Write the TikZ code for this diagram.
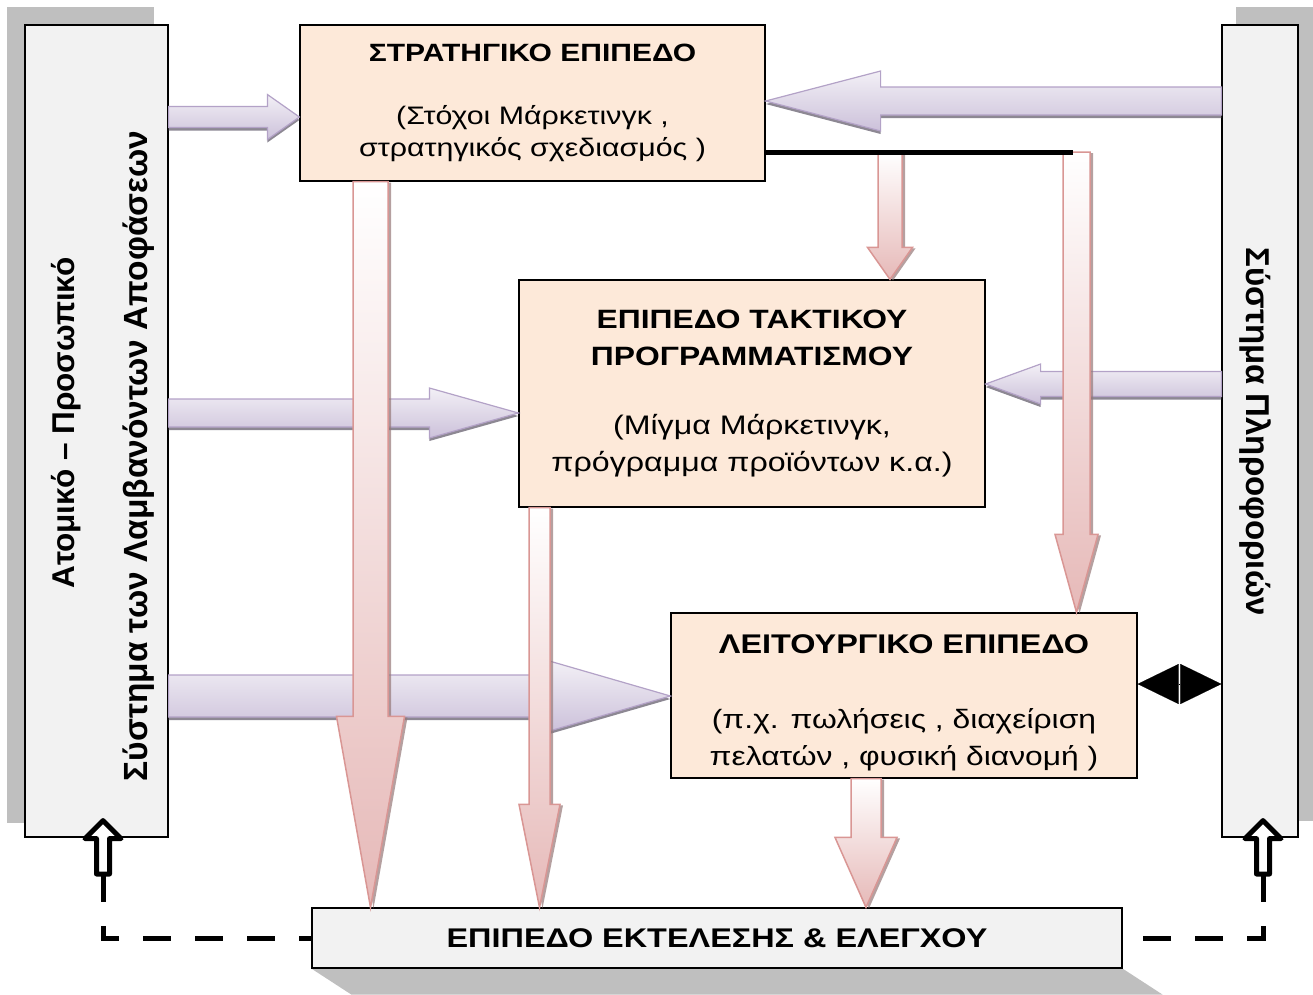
\documentclass[tikz,border=0pt]{standalone}
\usepackage{fontspec}
\setmainfont{Liberation Sans}
\newfontfamily\widefont[FakeStretch=1.2]{Liberation Sans}
\usetikzlibrary{calc,shadows,arrows.meta}

\definecolor{panelgray}{HTML}{F2F2F2}
\definecolor{shadowgray}{HTML}{BFBFBF}
\definecolor{peach}{HTML}{FDE9D9}
\definecolor{lilac}{HTML}{CCC1DA}
\definecolor{lilacdark}{HTML}{B3A2C7}
\definecolor{rose}{HTML}{E6B9B8}
\definecolor{rosedark}{HTML}{D99694}

\newcommand{\fatarrow}[6]{%
  \coordinate (fs) at (#2);
  \coordinate (ft) at (#3);
  \coordinate (fh) at ($(ft)!#6!(fs)$);
  \path[#1] ($(fs)!#4!90:(ft)$) -- ($(fh)!#4!90:(ft)$) -- ($(fh)!#5!90:(ft)$) -- (ft)
    -- ($(fh)!#5!-90:(ft)$) -- ($(fh)!#4!-90:(ft)$) -- ($(fs)!#4!-90:(ft)$) -- cycle;
}

\begin{document}
\begin{tikzpicture}[x=1pt, y=-1pt,
    pnl/.style={draw, line width=1.2pt, fill=panelgray, inner sep=0pt},
    lvl/.style={draw, line width=1.2pt, fill=peach, align=center, inner sep=0pt},
    purp/.style={draw=lilacdark, line width=1.2pt, top color=white!75!lilac, bottom color=lilac,
      drop shadow={shadow xshift=0pt, shadow yshift=-3pt, fill=black!45!lilac, opacity=.8}},
    pink/.style={draw=rosedark, line width=1.5pt, top color=white, bottom color=rose,
      drop shadow={shadow xshift=3pt, shadow yshift=-1pt, fill=black!35!rose, opacity=.7}},
    hollow/.style={draw, fill=white, line width=5pt, line join=round},
    dashline/.style={line width=5pt, dash pattern=on 28pt off 24pt},
    biarr/.style={line width=.1pt, {Triangle[length=41pt,width=40pt]}-{Triangle[length=41pt,width=40pt]}}]
    \useasboundingbox (0,0) rectangle (1313,994);

    \node[pnl, minimum width=143pt, minimum height=812pt] (lp) at (96.5,431) {};
    \node[pnl, minimum width=76pt, minimum height=812pt] (rp) at (1260,431) {};
    \node[pnl, minimum width=810pt, minimum height=60pt] (exec) at (717,938) {};
    \fill[shadowgray] ($(lp.north west)+(-17,-17)$) rectangle ($(lp.south east)+(-15,-15)$);
    \fill[shadowgray] ($(rp.north west)+(15,-17)$) rectangle ($(rp.south east)+(15,-17)$);
    \fill[shadowgray] (exec.south west) -- (exec.south east) -- ++(40,26) -- ($(exec.south west)+(40,26)$) -- cycle;
    \node[pnl, minimum width=143pt, minimum height=812pt] at (lp) {};
    \node[pnl, minimum width=76pt, minimum height=812pt] at (rp) {};
    \node[pnl, minimum width=810pt, minimum height=60pt, font=\widefont\bfseries\fontsize{27}{32}\selectfont]
      (exectext) at (exec) {ΕΠΙΠΕΔΟ ΕΚΤΕΛΕΣΗΣ \& ΕΛΕΓΧΟΥ};

    \node[rotate=90, font=\bfseries\fontsize{31.5}{36}\selectfont] (lpa) at (66,423) {Ατομικό – Προσωπικό};
    \node[rotate=90, font=\bfseries\fontsize{33.5}{40}\selectfont] (lpb) at (139,456) {Σύστημα των Λαμβανόντων Αποφάσεων};
    \node[rotate=-90, font=\bfseries\fontsize{33}{38}\selectfont] (rpa) at (1255,432) {Σύστημα  Πληροφοριών};

    \node[lvl, minimum width=465pt, minimum height=156pt, font=\widefont\fontsize{25.3}{32}\selectfont] (strat) at (532.5,103)
      {\bfseries\fontsize{25}{32}\selectfont ΣΤΡΑΤΗΓΙΚΟ ΕΠΙΠΕΔΟ\\[31pt]
       (Στόχοι Μάρκετινγκ ,\\στρατηγικός σχεδιασμός )};
    \node[lvl, minimum width=466pt, minimum height=227pt, font=\widefont\fontsize{26.8}{37}\selectfont] (tact) at (752,393.5)
      {\bfseries\fontsize{26.5}{37}\selectfont ΕΠΙΠΕΔΟ ΤΑΚΤΙΚΟΥ\\
       \bfseries\fontsize{26.5}{37}\selectfont ΠΡΟΓΡΑΜΜΑΤΙΣΜΟΥ\\[32pt]
       (Μίγμα Μάρκετινγκ,\\πρόγραμμα προϊόντων κ.α.)};
    \node[lvl, minimum width=466pt, minimum height=165pt, font=\widefont\fontsize{26.5}{37}\selectfont] (oper) at (904,695.5)
      {\bfseries\fontsize{27}{37}\selectfont\rule{0pt}{33pt}ΛΕΙΤΟΥΡΓΙΚΟ ΕΠΙΠΕΔΟ\\[38pt]
       (π.χ. πωλήσεις , διαχείριση\\πελατών , φυσική διανομή )};

    \fatarrow{purp}{lp.east |- 0,117}{strat.west |- 0,117}{10.5pt}{22.5pt}{32pt}
    \fatarrow{purp}{lp.east |- 0,413}{tact.west |- 0,413}{14pt}{25pt}{89pt}
    \fatarrow{purp}{lp.east |- 0,696}{oper.west |- 0,696}{21pt}{35pt}{121pt}
    \fatarrow{purp}{rp.west |- 0,101}{strat.east |- 0,101}{14pt}{30pt}{115pt}
    \fatarrow{purp}{rp.west |- 0,384}{tact.east |- 0,384}{12.5pt}{20pt}{55pt}

    \coordinate (split) at (1073,152);
    \fatarrow{pink}{370.5,0 |- strat.south}{370.5,0 |- exec.north}{17.5pt}{34pt}{191pt}
    \fatarrow{pink}{539.5,0 |- tact.south}{539.5,0 |- exec.north}{10.5pt}{20.5pt}{103pt}
    \fatarrow{pink}{890,0 |- split}{890,0 |- tact.north}{12pt}{22.5pt}{32pt}
    \fatarrow{pink}{1076.5,0 |- split}{1076.5,0 |- oper.north}{13.5pt}{21.5pt}{78pt}
    \fatarrow{pink}{866,0 |- oper.south}{866,0 |- exec.north}{15pt}{31pt}{70pt}
    \draw[line width=5pt] (strat.east |- split) -- (split);

    \draw[biarr] (oper.east |- 0,684) -- (rp.west |- 0,684);

    \coordinate (lfoot) at (103,874);
    \coordinate (rfoot) at (1263,874);
    \draw[dashline] (lfoot) |- (exec.west);
    \draw[dashline] (rfoot) |- (exec.east);
    \fatarrow{hollow}{lfoot}{$(lfoot |- lp.south)+(0,-17)$}{6.5pt}{18pt}{18pt}
    \fatarrow{hollow}{rfoot}{$(rfoot |- rp.south)+(0,-17)$}{6.5pt}{18pt}{18pt}
\end{tikzpicture}
\end{document}
